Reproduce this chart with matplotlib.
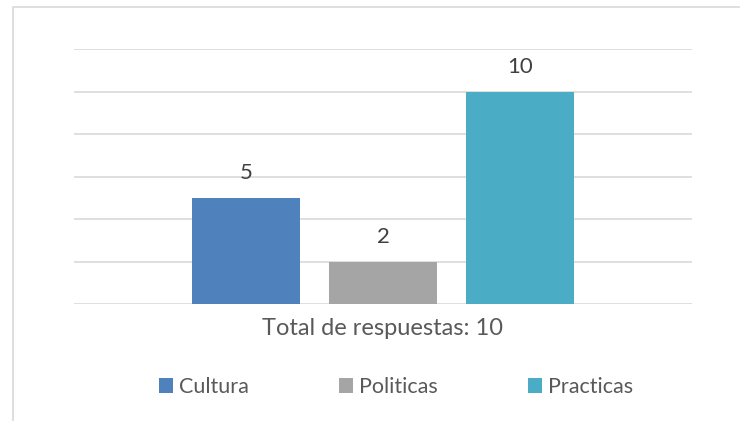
import matplotlib
matplotlib.use("Agg")
import matplotlib.pyplot as plt
from matplotlib.patches import Rectangle

series = ["Cultura", "Politicas", "Practicas"]
values = [5, 2, 10]
colors = ["#4F81BD", "#A5A5A5", "#4BACC6"]
xlabel = "Total de respuestas: 10"

plt.rcParams["font.family"] = ["Lato", "DejaVu Sans"]

W, H = 740, 421
fig = plt.figure(figsize=(W / 100, H / 100), dpi=100)

# outer chart frame (cropped on the right and bottom)
fig.patches.append(Rectangle((12.5 / W, -0.1), 1.2, (H - 6.5) / H + 0.1,
                             transform=fig.transFigure, fill=False,
                             edgecolor="#D9D9D9", lw=1.2))

ax = fig.add_axes([74 / W, (H - 304) / H, (692 - 74) / W, (304 - 49) / H])

step = 137
xs = [i for i in range(len(series))]
width = 108 / step
bars = []
for x, v, c, s in zip(xs, values, colors, series):
    b = ax.bar(x, v, width=width, color=c, label=s, zorder=3)
    bars.append(b)
    ax.text(x, v + 0.68, str(v), ha="center", va="bottom",
            fontsize=16, color="#404040")

ax.set_ylim(0, 12)
ax.set_xlim(1 - (383 - 74) / step, 1 + (692 - 383) / step)
ax.set_yticks(range(0, 13, 2))
ax.grid(axis="y", color="#D9D9D9", lw=1.2, zorder=0)
ax.tick_params(left=False, bottom=False, labelleft=False, labelbottom=False)
for sp in ax.spines.values():
    sp.set_visible(False)

ax.set_xlabel(xlabel, fontsize=17, color="#595959", labelpad=10)

fig.legend(handles=[b[0] for b in bars], labels=series,
           loc="center", bbox_to_anchor=(396 / W, (H - 387) / H),
           ncol=3, frameon=False, fontsize=15.5, labelcolor="#595959",
           handlelength=0.65, handleheight=0.65, handletextpad=0.28,
           columnspacing=4.2)

fig.savefig("out.png", dpi=100)
